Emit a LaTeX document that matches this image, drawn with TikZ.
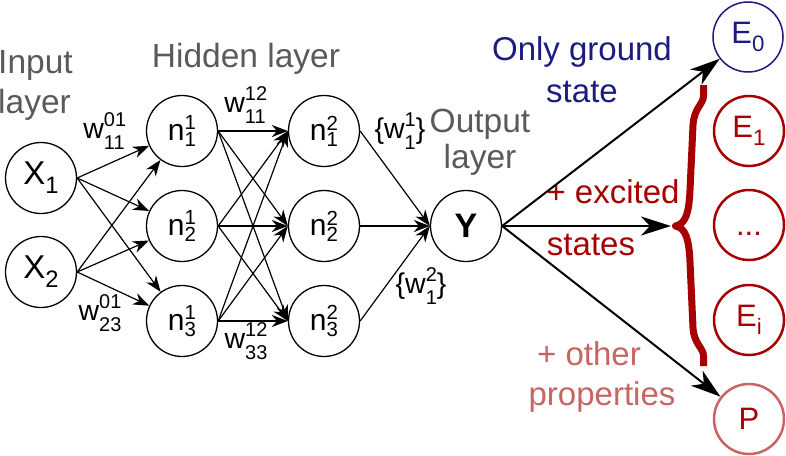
\documentclass[tikz,border=0pt]{standalone}
\usepackage{fontspec}
\usepackage{graphicx}
\setmainfont{Liberation Sans}
\usetikzlibrary{arrows.meta}
\definecolor{txtgray}{HTML}{5A5A5A}
\definecolor{navyc}{HTML}{1C1C80}
\definecolor{dred}{HTML}{A60000}
\definecolor{lred}{HTML}{C86464}
\newcommand\nss[2]{\rlap{\raisebox{0.34em}{\scalebox{0.68}{#1}}}\raisebox{-0.2em}{\scalebox{0.68}{#2}}}
\newcommand\wss[2]{\rlap{\raisebox{0.4em}{\scalebox{0.7}{#1}}}\raisebox{-0.42em}{\scalebox{0.7}{#2}}}
\newcommand\sbs[2]{\raisebox{#1}{\scalebox{0.72}{#2}}}
\begin{document}
\begin{tikzpicture}[x=1pt,y=-1pt,
  neuron/.style={circle, draw, line width=1.3pt, minimum size=71pt, inner sep=0pt, font=\fontsize{30}{32}\selectfont},
  outE/.style={circle, draw, line width=2.5pt, minimum size=70pt, inner sep=0pt, font=\fontsize{31}{33}\selectfont},
  graylbl/.style={anchor=base, inner sep=0pt, text=txtgray, font=\fontsize{33.5}{35}\selectfont},
  clrlbl/.style={anchor=base, inner sep=0pt, font=\fontsize{33}{35}\selectfont},
  wlbl/.style={anchor=base, inner sep=0pt, font=\fontsize{28.5}{30}\selectfont},
  nnarr/.style={line width=1.2pt, -{Stealth[length=16pt,width=12pt,inset=5pt]}},
  bigarr/.style={line width=2pt, -{Stealth[length=30pt,width=19pt,inset=9pt]}}
]
\useasboundingbox (0,0) rectangle (786,455);

% input layer
\node[neuron, font=\fontsize{33}{35}\selectfont] (X1) at (41,178) {X\sbs{-0.28em}{1}};
\node[neuron, font=\fontsize{33}{35}\selectfont] (X2) at (41,272) {X\sbs{-0.28em}{2}};
% hidden layer 1
\node[neuron] (n11) at (182,131) {n\nss{1}{1}};
\node[neuron] (n12) at (182,226) {n\nss{1}{2}};
\node[neuron] (n13) at (182,321) {n\nss{1}{3}};
% hidden layer 2
\node[neuron] (n21) at (324,131) {n\nss{2}{1}};
\node[neuron] (n22) at (324,226) {n\nss{2}{2}};
\node[neuron] (n23) at (324,321) {n\nss{2}{3}};
% output
\node[neuron, font=\fontsize{34}{36}\selectfont\bfseries] (Y) at (466,226) {Y};
% right circles
\node[outE, draw=navyc, line width=1.5pt, text=navyc] (E0) at (748,37) {E\sbs{-0.25em}{0}};
\node[outE, draw=dred, text=dred] (E1) at (749,131) {E\sbs{-0.25em}{1}};
\node[outE, draw=dred, text=dred] (Ed) at (749,225) {\vphantom{E}...};
\node[outE, draw=dred, text=dred] (Ei) at (749,320) {E\sbs{-0.25em}{i}};
\node[outE, draw=lred, text=dred] (P) at (749,419) {P};

% titles
\node[graylbl, anchor=base west] (tin1) at (-2,73) {Input};
\node[graylbl, anchor=base west] (tin2) at (-2,113) {layer};
\node[graylbl] (thid) at (246,67) {Hidden layer};
\node[graylbl] (tout1) at (480,132) {Output};
\node[graylbl] (tout2) at (480,168) {layer};
\node[clrlbl, text=navyc] (tg1) at (582,60) {Only ground};
\node[clrlbl, text=navyc] (tg2) at (582,102) {state};
\node[clrlbl, text=dred] (te1) at (613,203) {+ excited};
\node[clrlbl, text=dred] (te2) at (591,255) {states};
\node[clrlbl, text=lred] (tp1) at (589,365) {+ other};
\node[clrlbl, text=lred] (tp2) at (602,405) {properties};

% weight labels
\node[wlbl] (w1) at (104,138) {w\wss{01}{11}};
\node[wlbl] (w2) at (100,320) {w\wss{01}{23}};
\node[wlbl] (w3) at (245,112) {w\wss{12}{11}};
\node[wlbl] (w4) at (246,348) {w\wss{12}{33}};
\node[wlbl] (w5) at (400,138) {\{w\wss{1}{1}\}};
\node[wlbl] (w6) at (421,293) {\{w\wss{2}{1}\}};

% connections
\foreach \i in {1,2}{\foreach \j in {1,2,3}{\draw[nnarr] (X\i.east) -- (n1\j);}}
\foreach \i in {1,2,3}{\foreach \j in {1,2,3}{\draw[nnarr] (n1\i.east) -- (n2\j.west);}}
\foreach \i in {1,2,3}{\draw[nnarr] (n2\i.east) -- (Y.west);}

% brace
\coordinate (btip) at (671,226);
\draw[dred, line width=7pt, line cap=butt, line join=round]
  (703.5,85) -- (703.5,96) .. controls (703.5,104) and (694,108) .. (693,125)
  -- (690,190) .. controls (689,212) and (686,224) .. (675.5,226)
  .. controls (686,228) and (689,240) .. (690,262)
  -- (693,328) .. controls (694,344) and (703.5,348) .. (703.5,356) -- (703.5,366);

% output arrows
\draw[bigarr] (Y.east) -- (E0);
\draw[bigarr] (Y.east) -- (btip);
\draw[bigarr] (Y.east) -- (P);
\end{tikzpicture}
\end{document}
